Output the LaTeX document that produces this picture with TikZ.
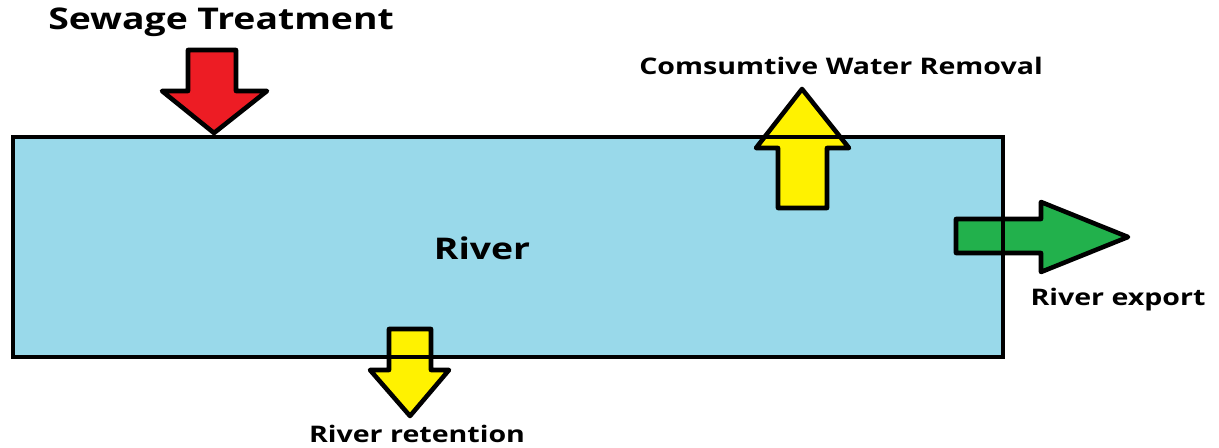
\documentclass[tikz,border=0pt]{standalone}
\usepackage{fontspec}
\setmainfont{Open Sans}[FakeStretch=1.25]
\definecolor{paintred}{RGB}{237,28,36}
\definecolor{paintyellow}{RGB}{255,242,0}
\definecolor{paintgreen}{RGB}{34,177,76}
\definecolor{paintblue}{RGB}{153,217,234}
\tikzset{
  outline/.style={draw=black, line width=2.6pt, line join=round},
  bigtext/.style={font=\bfseries\fontsize{17}{20}\selectfont},
  smalltext/.style={font=\bfseries\fontsize{13}{16}\selectfont}
}
\begin{document}
\begin{tikzpicture}[x=0.02cm,y=-0.02cm]
\useasboundingbox (0,0) rectangle (1219,448);

% River body (fill first, border on top of the arrows)
\fill[paintblue] (13,137) rectangle (1003,357);

% Sewage Treatment inflow
\draw[outline, fill=paintred] (188,50) -- (236,50) -- (236,91) -- (267,91) -- (214,133)
  -- (162,91) -- (188,91) -- cycle;

% Consumptive water removal
\draw[outline, fill=paintyellow] (778,208) -- (827,208) -- (827,148) -- (849,148) -- (802,89)
  -- (756,148) -- (778,148) -- cycle;

% River export
\draw[outline, fill=paintgreen] (956,219) -- (1041,219) -- (1041,202) -- (1128,237) -- (1041,272)
  -- (1041,253) -- (956,253) -- cycle;

% River retention
\draw[outline, fill=paintyellow] (389,329) -- (431,329) -- (431,370) -- (449,370) -- (410,416)
  -- (370,370) -- (389,370) -- cycle;

% River border
\draw[line width=2.6pt] (13,137) rectangle (1003,357);

% Labels
\node[bigtext] (sewage) at (221,22) {Sewage Treatment};
\node[smalltext] (removal) at (841,66) {Comsumtive Water Removal};
\node[bigtext] (river) at (482,248) {River};
\node[smalltext] (export) at (1118,300) {River export};
\node[smalltext] (retention) at (417,434) {River retention};

\end{tikzpicture}
\end{document}
